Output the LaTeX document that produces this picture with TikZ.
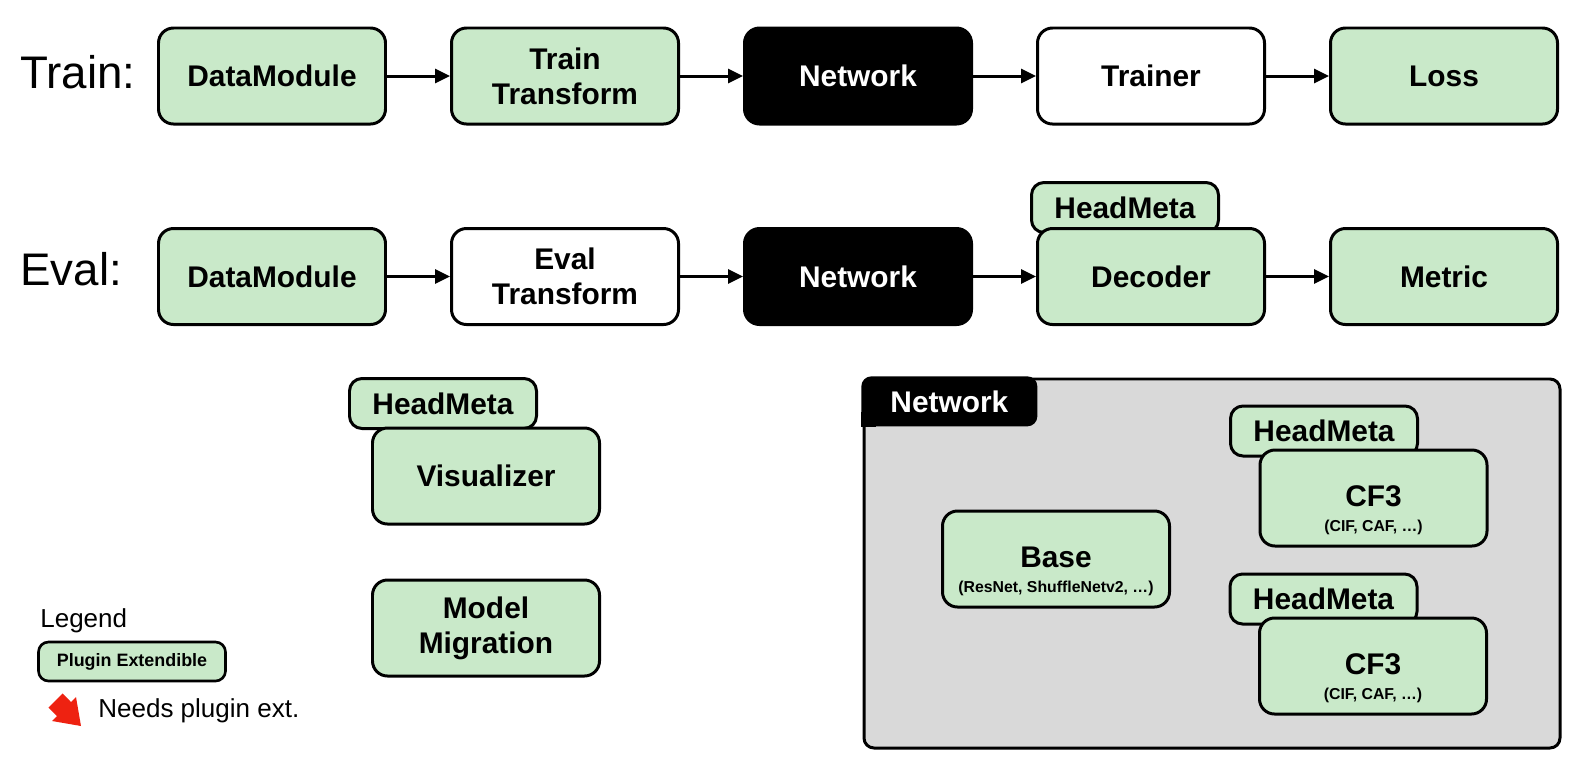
\documentclass[tikz,border=0pt]{standalone}
\usepackage{fontspec}
\setmainfont{Liberation Sans}
\usepackage{tikz}
\usetikzlibrary{arrows.meta}
\definecolor{plugin}{HTML}{C9E9C9}
\definecolor{netgray}{HTML}{D9D9D9}
\definecolor{extred}{HTML}{EE2211}
\tikzstyle{box} = [draw, line width=1.7pt, rounded corners=0.3cm, minimum width=4.54cm, minimum height=1.92cm, align=center, inner sep=2pt, font=\fontsize{17}{20}\selectfont\bfseries]
\tikzstyle{plug} = [box, fill=plugin]
\tikzstyle{plain} = [box, fill=white]
\tikzstyle{net} = [box, fill=black, text=white]
\tikzstyle{meta} = [draw, line width=1.7pt, rounded corners=0.25cm, fill=plugin, minimum width=3.74cm, minimum height=1cm, font=\fontsize{17}{20}\selectfont\bfseries]
\tikzstyle{arr} = [line width=1.7pt, -{Triangle[length=0.3cm,width=0.28cm]}]
\tikzstyle{rowlbl} = [inner sep=0pt, anchor=base west, font=\fontsize{26}{30}\selectfont]
\newcommand{\subtxt}[1]{{\fontsize{9}{10}\selectfont #1}}
\newcommand{\toprule}{\rule{0pt}{0.9cm}}

\begin{document}
\begin{tikzpicture}
	\useasboundingbox (0,0) rectangle (31.76,-15.52);
	% train row
	\node[rowlbl] (trainlbl) at (0.40,-1.76) {Train:};
	\node[plug] (dmT) at (5.44,-1.52) {DataModule};
	\node[plug] (ttT) at (11.30,-1.52) {Train\\Transform};
	\node[net] (netT) at (17.16,-1.52) {Network};
	\node[plain] (trT) at (23.02,-1.52) {Trainer};
	\node[plug] (lossT) at (28.88,-1.52) {Loss};
	\draw[arr] (dmT) -- (ttT);
	\draw[arr] (ttT) -- (netT);
	\draw[arr] (netT) -- (trT);
	\draw[arr] (trT) -- (lossT);
	% eval row
	\node[rowlbl] (evallbl) at (0.40,-5.70) {Eval:};
	\node[plug] (dmE) at (5.44,-5.53) {DataModule};
	\node[plain] (etE) at (11.30,-5.53) {Eval\\Transform};
	\node[net] (netE) at (17.16,-5.53) {Network};
	\node[meta] (decmeta) at (22.50,-4.15) {HeadMeta};
	\node[plug] (decE) at (23.02,-5.53) {Decoder};
	\node[plug] (metE) at (28.88,-5.53) {Metric};
	\draw[arr] (dmE) -- (etE);
	\draw[arr] (etE) -- (netE);
	\draw[arr] (netE) -- (decE);
	\draw[arr] (decE) -- (metE);
	% visualizer and migration
	\node[meta] (vismeta) at (8.86,-8.07) {HeadMeta};
	\node[plug] (vis) at (9.72,-9.52) {Visualizer};
	\node[plug] (migr) at (9.72,-12.56) {Model\\Migration};
	% network panel
	\node[draw, line width=1.7pt, fill=netgray, rounded corners=0.2cm, minimum width=13.92cm, minimum height=7.38cm, anchor=north west] (netbox) at (17.25,-7.55) {};
	\node[fill=black, rounded corners=0.2cm, minimum width=3.52cm, minimum height=1.0cm, anchor=north west, text=white, font=\fontsize{17}{20}\selectfont\bfseries] (nettab) at (17.22,-7.52) {Network};
	\fill (nettab.south west) rectangle ++(0.3,0.3);
	\node[plug] (base) at (21.12,-11.18) {\toprule Base\\[-6pt]\subtxt{(ResNet, ShuffleNetv2, …)}};
	\node[meta] (cfmetaA) at (26.48,-8.62) {HeadMeta};
	\node[plug] (cfA) at (27.47,-9.96) {\toprule CF3\\[-6pt]\subtxt{(CIF, CAF, …)}};
	\node[meta] (cfmetaB) at (26.47,-11.98) {HeadMeta};
	\node[plug] (cfB) at (27.46,-13.32) {\toprule CF3\\[-6pt]\subtxt{(CIF, CAF, …)}};
	% legend
	\node[anchor=base west, inner sep=0pt, font=\fontsize{14.8}{17}\selectfont] (legend) at (0.80,-12.54) {Legend};
	\node[draw, line width=1.5pt, fill=plugin, rounded corners=0.2cm, minimum width=3.74cm, minimum height=0.78cm, font=\fontsize{10.2}{12}\selectfont\bfseries] (legplug) at (2.64,-13.23) {Plugin Extendible};
	\fill[extred] (1.62,-14.52) -- (1.04,-14.42) -- (1.14,-14.32) -- (0.968,-14.152) -- (1.252,-13.868) -- (1.42,-14.04) -- (1.52,-13.94) -- cycle;
	\node[anchor=base west, inner sep=0pt, font=\fontsize{14.8}{17}\selectfont] (legext) at (1.96,-14.34) {Needs plugin ext.};
\end{tikzpicture}
\end{document}
